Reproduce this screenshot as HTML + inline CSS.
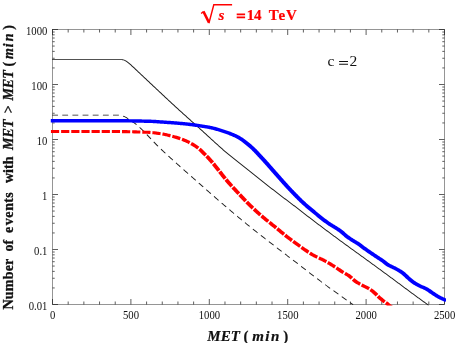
<!DOCTYPE html>
<html><head><meta charset="utf-8"><title>plot</title>
<style>html,body{margin:0;padding:0;background:#fff;}svg{display:block;}svg{will-change:transform;filter:blur(0.3px);}text{font-family:"Liberation Serif",serif;}</style>
</head><body>
<svg width="458" height="343" viewBox="0 0 458 343">
<defs><clipPath id="c"><rect x="50" y="29.5" width="396.0" height="276.0"/></clipPath></defs>
<rect width="458" height="343" fill="#fff"/>
<rect x="52.5" y="29.5" width="392.0" height="275.0" fill="none" stroke="#1a1a1a" stroke-width="0.46"/>
<path d="M52.50 304.5v-5.5M52.50 29.5v5.5M68.18 304.5v-3.0M68.18 29.5v3.0M83.86 304.5v-3.0M83.86 29.5v3.0M99.54 304.5v-3.0M99.54 29.5v3.0M115.22 304.5v-3.0M115.22 29.5v3.0M130.90 304.5v-5.5M130.90 29.5v5.5M146.58 304.5v-3.0M146.58 29.5v3.0M162.26 304.5v-3.0M162.26 29.5v3.0M177.94 304.5v-3.0M177.94 29.5v3.0M193.62 304.5v-3.0M193.62 29.5v3.0M209.30 304.5v-5.5M209.30 29.5v5.5M224.98 304.5v-3.0M224.98 29.5v3.0M240.66 304.5v-3.0M240.66 29.5v3.0M256.34 304.5v-3.0M256.34 29.5v3.0M272.02 304.5v-3.0M272.02 29.5v3.0M287.70 304.5v-5.5M287.70 29.5v5.5M303.38 304.5v-3.0M303.38 29.5v3.0M319.06 304.5v-3.0M319.06 29.5v3.0M334.74 304.5v-3.0M334.74 29.5v3.0M350.42 304.5v-3.0M350.42 29.5v3.0M366.10 304.5v-5.5M366.10 29.5v5.5M381.78 304.5v-3.0M381.78 29.5v3.0M397.46 304.5v-3.0M397.46 29.5v3.0M413.14 304.5v-3.0M413.14 29.5v3.0M428.82 304.5v-3.0M428.82 29.5v3.0M444.50 304.5v-5.5M444.50 29.5v5.5M52.5 304.50h5.5M444.5 304.50h-5.5M52.5 287.94h2.2M444.5 287.94h-2.2M52.5 278.26h2.2M444.5 278.26h-2.2M52.5 271.39h2.2M444.5 271.39h-2.2M52.5 266.06h2.2M444.5 266.06h-2.2M52.5 261.70h2.2M444.5 261.70h-2.2M52.5 258.02h2.2M444.5 258.02h-2.2M52.5 254.83h2.2M444.5 254.83h-2.2M52.5 252.02h2.2M444.5 252.02h-2.2M52.5 249.50h5.5M444.5 249.50h-5.5M52.5 232.94h2.2M444.5 232.94h-2.2M52.5 223.26h2.2M444.5 223.26h-2.2M52.5 216.39h2.2M444.5 216.39h-2.2M52.5 211.06h2.2M444.5 211.06h-2.2M52.5 206.70h2.2M444.5 206.70h-2.2M52.5 203.02h2.2M444.5 203.02h-2.2M52.5 199.83h2.2M444.5 199.83h-2.2M52.5 197.02h2.2M444.5 197.02h-2.2M52.5 194.50h5.5M444.5 194.50h-5.5M52.5 177.94h2.2M444.5 177.94h-2.2M52.5 168.26h2.2M444.5 168.26h-2.2M52.5 161.39h2.2M444.5 161.39h-2.2M52.5 156.06h2.2M444.5 156.06h-2.2M52.5 151.70h2.2M444.5 151.70h-2.2M52.5 148.02h2.2M444.5 148.02h-2.2M52.5 144.83h2.2M444.5 144.83h-2.2M52.5 142.02h2.2M444.5 142.02h-2.2M52.5 139.50h5.5M444.5 139.50h-5.5M52.5 122.94h2.2M444.5 122.94h-2.2M52.5 113.26h2.2M444.5 113.26h-2.2M52.5 106.39h2.2M444.5 106.39h-2.2M52.5 101.06h2.2M444.5 101.06h-2.2M52.5 96.70h2.2M444.5 96.70h-2.2M52.5 93.02h2.2M444.5 93.02h-2.2M52.5 89.83h2.2M444.5 89.83h-2.2M52.5 87.02h2.2M444.5 87.02h-2.2M52.5 84.50h5.5M444.5 84.50h-5.5M52.5 67.94h2.2M444.5 67.94h-2.2M52.5 58.26h2.2M444.5 58.26h-2.2M52.5 51.39h2.2M444.5 51.39h-2.2M52.5 46.06h2.2M444.5 46.06h-2.2M52.5 41.70h2.2M444.5 41.70h-2.2M52.5 38.02h2.2M444.5 38.02h-2.2M52.5 34.83h2.2M444.5 34.83h-2.2M52.5 32.02h2.2M444.5 32.02h-2.2M52.5 29.50h5.5M444.5 29.50h-5.5" fill="none" stroke="#1a1a1a" stroke-width="0.7"/>
<g clip-path="url(#c)">
<path d="M52.10 60.10L52.90 60.10L53.70 60.10L54.50 60.10L55.30 60.10L56.10 60.10L56.90 60.10L57.70 60.10L58.50 60.10L59.30 60.10L60.10 60.10L60.90 60.10L61.71 60.10L62.51 60.10L63.31 60.10L64.11 60.10L64.91 60.10L65.71 60.10L66.51 60.10L67.31 60.10L68.11 60.10L68.91 60.10L69.71 60.10L70.51 60.10L71.31 60.10L72.11 60.10L72.91 60.10L73.71 60.10L74.51 60.10L75.31 60.10L76.11 60.10L76.91 60.10L77.71 60.10L78.51 60.10L79.32 60.10L80.12 60.10L80.92 60.10L81.72 60.10L82.52 60.10L83.32 60.10L84.12 60.10L84.92 60.10L85.72 60.10L86.52 60.10L87.32 60.10L88.12 60.10L88.92 60.10L89.72 60.10L90.52 60.10L91.32 60.10L92.12 60.10L92.92 60.10L93.72 60.10L94.52 60.10L95.32 60.10L96.12 60.10L96.92 60.10L97.73 60.10L98.53 60.10L99.33 60.10L100.13 60.10L100.93 60.10L101.73 60.10L102.53 60.10L103.33 60.10L104.13 60.10L104.93 60.10L105.73 60.10L106.53 60.10L107.33 60.10L108.13 60.10L108.93 60.10L109.73 60.10L110.53 60.10L111.33 60.10L112.13 60.10L112.93 60.10L113.73 60.10L114.53 60.10L115.34 60.10L116.14 60.10L116.94 60.10L117.74 60.10L118.54 60.10L119.34 60.10L120.14 60.10L120.93 60.10L121.72 60.11L122.50 60.16L123.25 60.28L123.95 60.49L124.63 60.81L125.29 61.20L125.94 61.62L126.58 62.08L127.21 62.56L127.84 63.04L128.45 63.54L129.06 64.05L129.67 64.56L130.27 65.08L130.87 65.61L131.46 66.14L132.05 66.68L132.64 67.21L133.22 67.76L133.81 68.30L134.39 68.85L134.97 69.40L135.55 69.95L136.12 70.51L136.70 71.06L137.28 71.61L137.86 72.17L138.44 72.72L139.02 73.27L139.61 73.82L140.19 74.37L140.78 74.91L141.36 75.46L141.94 76.01L142.53 76.56L143.11 77.10L143.69 77.65L144.28 78.20L144.86 78.75L145.44 79.30L146.02 79.85L146.61 80.40L147.19 80.95L147.77 81.49L148.36 82.04L148.94 82.59L149.52 83.14L150.11 83.69L150.69 84.23L151.28 84.78L151.86 85.33L152.44 85.88L153.03 86.42L153.61 86.97L154.19 87.52L154.78 88.07L155.36 88.62L155.94 89.16L156.53 89.71L157.11 90.26L157.69 90.81L158.28 91.36L158.86 91.90L159.45 92.45L160.03 93.00L160.61 93.55L161.20 94.09L161.78 94.64L162.37 95.19L162.95 95.74L163.53 96.28L164.12 96.83L164.70 97.38L165.29 97.92L165.87 98.47L166.46 99.02L167.04 99.56L167.63 100.11L168.22 100.65L168.80 101.20L169.39 101.74L169.98 102.29L170.56 102.83L171.15 103.38L171.74 103.92L172.32 104.47L172.91 105.01L173.50 105.55L174.09 106.09L174.68 106.64L175.27 107.18L175.86 107.72L176.45 108.26L177.04 108.80L177.63 109.34L178.22 109.88L178.82 110.42L179.41 110.96L180.00 111.50L180.60 112.03L181.19 112.57L181.78 113.11L182.38 113.64L182.97 114.18L183.57 114.72L184.16 115.25L184.76 115.79L185.36 116.32L185.95 116.86L186.55 117.39L187.14 117.92L187.74 118.46L188.34 118.99L188.93 119.53L189.53 120.06L190.13 120.59L190.72 121.13L191.32 121.66L191.92 122.20L192.51 122.73L193.11 123.26L193.70 123.80L194.30 124.33L194.90 124.87L195.49 125.40L196.09 125.94L196.68 126.47L197.28 127.01L197.87 127.54L198.46 128.08L199.06 128.62L199.65 129.15L200.24 129.69L200.83 130.23L201.43 130.77L202.02 131.31L202.61 131.84L203.20 132.38L203.79 132.92L204.38 133.46L204.97 134.00L205.56 134.55L206.15 135.09L206.74 135.63L207.33 136.17L207.92 136.71L208.51 137.25L209.10 137.79L209.69 138.33L210.28 138.87L210.87 139.41L211.46 139.95L212.06 140.49L212.65 141.03L213.24 141.57L213.83 142.11L214.42 142.65L215.02 143.19L215.61 143.73L216.20 144.26L216.80 144.80L217.39 145.33L217.99 145.87L218.59 146.40L219.18 146.94L219.78 147.47L220.37 148.01L220.97 148.54L221.57 149.07L222.17 149.61L222.77 150.14L223.38 150.66L223.98 151.19L224.59 151.71L225.21 152.23L225.82 152.75L226.44 153.26L227.05 153.77L227.67 154.28L228.29 154.79L228.91 155.30L229.53 155.81L230.15 156.32L230.77 156.82L231.40 157.32L232.02 157.83L232.65 158.33L233.27 158.83L233.90 159.33L234.53 159.82L235.15 160.32L235.78 160.82L236.41 161.31L237.04 161.81L237.67 162.30L238.30 162.80L238.93 163.29L239.56 163.79L240.19 164.28L240.82 164.77L241.45 165.27L242.08 165.76L242.71 166.25L243.34 166.74L243.98 167.24L244.61 167.73L245.24 168.22L245.87 168.72L246.50 169.21L247.12 169.70L247.75 170.20L248.38 170.70L249.01 171.19L249.64 171.69L250.26 172.19L250.89 172.68L251.51 173.18L252.14 173.68L252.77 174.18L253.39 174.68L254.02 175.18L254.64 175.68L255.27 176.18L255.89 176.68L256.52 177.17L257.15 177.67L257.77 178.17L258.40 178.67L259.02 179.17L259.65 179.67L260.27 180.17L260.90 180.67L261.52 181.17L262.15 181.67L262.77 182.17L263.40 182.67L264.03 183.17L264.65 183.67L265.28 184.17L265.91 184.66L266.53 185.16L267.16 185.66L267.79 186.16L268.41 186.65L269.04 187.15L269.67 187.65L270.30 188.14L270.93 188.64L271.56 189.13L272.19 189.63L272.82 190.12L273.45 190.62L274.08 191.11L274.71 191.60L275.34 192.10L275.97 192.59L276.61 193.08L277.24 193.57L277.87 194.06L278.51 194.55L279.14 195.04L279.78 195.53L280.41 196.01L281.05 196.50L281.69 196.98L282.33 197.46L282.97 197.94L283.62 198.42L284.26 198.90L284.90 199.38L285.54 199.86L286.18 200.34L286.83 200.81L287.47 201.29L288.11 201.77L288.75 202.25L289.38 202.73L290.02 203.22L290.66 203.70L291.29 204.18L291.93 204.67L292.57 205.16L293.20 205.64L293.84 206.13L294.47 206.62L295.11 207.10L295.74 207.59L296.37 208.08L297.01 208.57L297.64 209.06L298.27 209.55L298.91 210.04L299.54 210.53L300.17 211.02L300.81 211.51L301.44 212.00L302.07 212.49L302.70 212.98L303.34 213.47L303.97 213.96L304.60 214.45L305.24 214.94L305.87 215.43L306.50 215.92L307.14 216.41L307.77 216.90L308.40 217.38L309.04 217.87L309.67 218.36L310.31 218.85L310.94 219.34L311.58 219.82L312.22 220.31L312.85 220.79L313.49 221.28L314.13 221.76L314.77 222.25L315.41 222.73L316.04 223.21L316.68 223.70L317.32 224.18L317.96 224.66L318.60 225.14L319.24 225.62L319.88 226.11L320.52 226.59L321.16 227.07L321.80 227.55L322.44 228.03L323.08 228.51L323.72 228.99L324.36 229.47L325.00 229.95L325.64 230.43L326.29 230.91L326.93 231.39L327.57 231.87L328.21 232.34L328.85 232.82L329.50 233.30L330.14 233.78L330.78 234.26L331.42 234.73L332.07 235.21L332.71 235.69L333.35 236.16L334.00 236.64L334.64 237.12L335.28 237.59L335.93 238.07L336.57 238.54L337.22 239.02L337.86 239.49L338.50 239.97L339.15 240.44L339.79 240.92L340.44 241.39L341.09 241.87L341.73 242.34L342.38 242.81L343.02 243.28L343.67 243.76L344.32 244.23L344.97 244.70L345.61 245.17L346.26 245.64L346.91 246.11L347.56 246.58L348.20 247.05L348.85 247.52L349.50 247.99L350.15 248.46L350.80 248.93L351.45 249.40L352.10 249.86L352.75 250.33L353.40 250.80L354.04 251.27L354.69 251.74L355.34 252.21L355.99 252.68L356.64 253.14L357.29 253.61L357.94 254.08L358.59 254.55L359.24 255.02L359.89 255.49L360.53 255.96L361.18 256.42L361.83 256.89L362.48 257.36L363.13 257.83L363.77 258.30L364.42 258.77L365.07 259.24L365.72 259.72L366.36 260.19L367.01 260.66L367.66 261.13L368.30 261.60L368.95 262.07L369.60 262.54L370.25 263.01L370.89 263.48L371.54 263.95L372.19 264.43L372.83 264.90L373.48 265.37L374.13 265.84L374.78 266.31L375.42 266.78L376.07 267.25L376.72 267.73L377.36 268.20L378.01 268.67L378.65 269.14L379.30 269.61L379.95 270.09L380.59 270.56L381.24 271.03L381.89 271.50L382.53 271.98L383.18 272.45L383.82 272.92L384.47 273.39L385.11 273.87L385.76 274.34L386.40 274.82L387.05 275.29L387.69 275.76L388.34 276.24L388.98 276.71L389.62 277.19L390.27 277.66L390.91 278.14L391.55 278.62L392.20 279.09L392.84 279.57L393.48 280.05L394.13 280.52L394.77 281.00L395.41 281.48L396.05 281.96L396.69 282.43L397.34 282.91L397.98 283.39L398.62 283.87L399.26 284.35L399.90 284.83L400.54 285.30L401.19 285.78L401.83 286.26L402.47 286.74L403.11 287.22L403.75 287.70L404.40 288.17L405.04 288.65L405.68 289.13L406.32 289.61L406.96 290.09L407.61 290.56L408.25 291.04L408.89 291.52L409.54 291.99L410.18 292.47L410.83 292.94L411.47 293.42L412.11 293.90L412.76 294.37L413.40 294.84L414.05 295.32L414.70 295.79L415.34 296.26L415.99 296.74L416.64 297.21L417.28 297.68L417.93 298.15L418.58 298.62L419.23 299.09L419.88 299.56L420.52 300.03L421.17 300.50L421.82 300.97L422.47 301.44L423.12 301.91L423.77 302.38L424.42 302.85L425.06 303.31L425.71 303.78L426.36 304.25L427.01 304.72L427.66 305.19L428.31 305.66L428.86 304.89L428.21 304.42L427.56 303.96L426.92 303.49L426.27 303.02L425.62 302.55L424.97 302.08L424.32 301.61L423.67 301.14L423.02 300.67L422.38 300.20L421.73 299.73L421.08 299.26L420.43 298.79L419.78 298.32L419.14 297.85L418.49 297.38L417.84 296.91L417.19 296.44L416.55 295.97L415.90 295.50L415.26 295.03L414.61 294.55L413.97 294.08L413.32 293.61L412.68 293.13L412.03 292.66L411.39 292.18L410.75 291.70L410.10 291.23L409.46 290.75L408.82 290.28L408.17 289.80L407.53 289.32L406.89 288.84L406.25 288.37L405.61 287.89L404.96 287.41L404.32 286.93L403.68 286.45L403.04 285.98L402.40 285.50L401.75 285.02L401.11 284.54L400.47 284.06L399.83 283.58L399.19 283.11L398.55 282.63L397.90 282.15L397.26 281.67L396.62 281.19L395.98 280.72L395.34 280.24L394.69 279.76L394.05 279.28L393.41 278.81L392.76 278.33L392.12 277.85L391.48 277.38L390.83 276.90L390.19 276.42L389.55 275.95L388.90 275.47L388.26 275.00L387.61 274.52L386.97 274.05L386.32 273.58L385.67 273.10L385.03 272.63L384.38 272.16L383.74 271.68L383.09 271.21L382.45 270.74L381.80 270.26L381.15 269.79L380.51 269.32L379.86 268.85L379.21 268.38L378.57 267.90L377.92 267.43L377.27 266.96L376.63 266.49L375.98 266.02L375.33 265.54L374.69 265.07L374.04 264.60L373.39 264.13L372.75 263.66L372.10 263.19L371.45 262.72L370.80 262.25L370.16 261.78L369.51 261.30L368.86 260.83L368.21 260.36L367.57 259.89L366.92 259.42L366.27 258.95L365.63 258.48L364.98 258.01L364.33 257.54L363.68 257.07L363.03 256.60L362.39 256.13L361.74 255.66L361.09 255.19L360.44 254.72L359.79 254.25L359.14 253.78L358.49 253.31L357.84 252.84L357.19 252.38L356.55 251.91L355.90 251.44L355.25 250.97L354.60 250.50L353.95 250.03L353.30 249.57L352.65 249.10L352.00 248.63L351.35 248.16L350.71 247.69L350.06 247.22L349.41 246.75L348.76 246.28L348.11 245.81L347.46 245.34L346.82 244.87L346.17 244.40L345.52 243.93L344.88 243.46L344.23 242.99L343.58 242.52L342.94 242.05L342.29 241.57L341.65 241.10L341.00 240.63L340.36 240.15L339.71 239.68L339.07 239.20L338.42 238.73L337.78 238.25L337.14 237.78L336.49 237.30L335.85 236.83L335.21 236.35L334.56 235.88L333.92 235.40L333.28 234.92L332.63 234.45L331.99 233.97L331.35 233.49L330.71 233.01L330.06 232.54L329.42 232.06L328.78 231.58L328.14 231.10L327.50 230.62L326.86 230.14L326.21 229.67L325.57 229.19L324.93 228.71L324.29 228.23L323.65 227.75L323.01 227.27L322.37 226.79L321.73 226.31L321.09 225.82L320.45 225.34L319.81 224.86L319.17 224.38L318.54 223.90L317.90 223.42L317.26 222.93L316.62 222.45L315.98 221.97L315.34 221.49L314.71 221.00L314.07 220.52L313.43 220.03L312.80 219.55L312.16 219.06L311.53 218.58L310.89 218.09L310.26 217.60L309.62 217.11L308.99 216.62L308.36 216.14L307.72 215.65L307.09 215.16L306.46 214.67L305.82 214.18L305.19 213.69L304.56 213.20L303.92 212.71L303.29 212.22L302.66 211.73L302.03 211.24L301.39 210.75L300.76 210.26L300.13 209.77L299.49 209.28L298.86 208.79L298.23 208.30L297.59 207.81L296.96 207.32L296.32 206.83L295.69 206.34L295.05 205.86L294.42 205.37L293.78 204.88L293.15 204.40L292.51 203.91L291.87 203.42L291.24 202.94L290.60 202.45L289.96 201.97L289.32 201.49L288.68 201.01L288.04 200.53L287.39 200.05L286.75 199.57L286.11 199.09L285.47 198.62L284.83 198.14L284.19 197.66L283.54 197.18L282.91 196.70L282.27 196.22L281.63 195.74L280.99 195.25L280.36 194.77L279.73 194.28L279.09 193.79L278.46 193.30L277.83 192.81L277.19 192.32L276.56 191.83L275.93 191.34L275.30 190.85L274.67 190.35L274.04 189.86L273.41 189.37L272.78 188.87L272.15 188.38L271.52 187.88L270.90 187.39L270.27 186.89L269.64 186.40L269.01 185.90L268.39 185.40L267.76 184.90L267.13 184.41L266.51 183.91L265.88 183.41L265.25 182.91L264.63 182.41L264.00 181.91L263.38 181.42L262.75 180.92L262.13 180.42L261.50 179.92L260.87 179.42L260.25 178.92L259.62 178.42L259.00 177.92L258.37 177.42L257.75 176.92L257.12 176.42L256.50 175.92L255.87 175.42L255.25 174.92L254.62 174.42L253.99 173.92L253.37 173.42L252.74 172.93L252.12 172.43L251.49 171.93L250.86 171.43L250.23 170.93L249.61 170.44L248.98 169.94L248.35 169.44L247.72 168.95L247.09 168.45L246.46 167.96L245.83 167.47L245.20 166.97L244.57 166.48L243.94 165.99L243.31 165.49L242.68 165.00L242.04 164.51L241.41 164.02L240.78 163.52L240.15 163.03L239.52 162.54L238.89 162.04L238.26 161.55L237.64 161.05L237.01 160.56L236.38 160.06L235.75 159.57L235.13 159.07L234.50 158.57L233.87 158.07L233.25 157.57L232.63 157.07L232.00 156.57L231.38 156.07L230.76 155.56L230.14 155.06L229.52 154.55L228.91 154.04L228.29 153.53L227.67 153.02L227.06 152.51L226.45 152.00L225.84 151.48L225.23 150.97L224.62 150.45L224.02 149.92L223.42 149.40L222.82 148.87L222.23 148.34L221.63 147.80L221.03 147.27L220.44 146.74L219.84 146.20L219.25 145.67L218.65 145.13L218.06 144.60L217.46 144.06L216.87 143.53L216.28 142.99L215.68 142.45L215.09 141.91L214.50 141.38L213.91 140.84L213.32 140.30L212.73 139.76L212.13 139.22L211.54 138.68L210.95 138.14L210.36 137.60L209.77 137.06L209.18 136.52L208.59 135.98L208.00 135.43L207.41 134.89L206.82 134.35L206.23 133.81L205.64 133.27L205.05 132.73L204.46 132.19L203.87 131.65L203.28 131.11L202.69 130.57L202.09 130.03L201.50 129.49L200.91 128.96L200.32 128.42L199.72 127.88L199.13 127.34L198.53 126.81L197.94 126.27L197.34 125.73L196.75 125.20L196.15 124.66L195.56 124.13L194.96 123.59L194.36 123.06L193.77 122.53L193.17 121.99L192.58 121.46L191.98 120.92L191.38 120.39L190.79 119.86L190.19 119.32L189.59 118.79L189.00 118.26L188.40 117.72L187.80 117.19L187.21 116.65L186.61 116.12L186.02 115.58L185.42 115.05L184.83 114.51L184.23 113.98L183.64 113.44L183.04 112.91L182.45 112.37L181.85 111.84L181.26 111.30L180.67 110.76L180.08 110.22L179.48 109.69L178.89 109.15L178.30 108.61L177.71 108.07L177.12 107.53L176.53 106.99L175.94 106.45L175.35 105.90L174.77 105.36L174.18 104.82L173.59 104.28L173.00 103.73L172.41 103.19L171.83 102.65L171.24 102.10L170.65 101.56L170.07 101.01L169.48 100.47L168.90 99.92L168.31 99.38L167.72 98.83L167.14 98.29L166.55 97.74L165.97 97.19L165.39 96.65L164.80 96.10L164.22 95.55L163.63 95.01L163.05 94.46L162.46 93.91L161.88 93.37L161.30 92.82L160.71 92.27L160.13 91.72L159.55 91.17L158.96 90.63L158.38 90.08L157.80 89.53L157.21 88.98L156.63 88.43L156.04 87.89L155.46 87.34L154.88 86.79L154.29 86.24L153.71 85.70L153.13 85.15L152.54 84.60L151.96 84.05L151.38 83.50L150.79 82.96L150.21 82.41L149.62 81.86L149.04 81.31L148.46 80.77L147.87 80.22L147.29 79.67L146.71 79.12L146.13 78.57L145.54 78.02L144.96 77.47L144.38 76.93L143.80 76.38L143.21 75.83L142.63 75.28L142.05 74.73L141.46 74.18L140.88 73.64L140.29 73.09L139.71 72.54L139.13 71.99L138.55 71.44L137.97 70.89L137.40 70.34L136.82 69.78L136.24 69.23L135.66 68.68L135.08 68.12L134.49 67.57L133.90 67.03L133.32 66.48L132.72 65.94L132.12 65.40L131.52 64.87L130.91 64.34L130.30 63.82L129.69 63.30L129.06 62.79L128.43 62.28L127.79 61.79L127.13 61.31L126.46 60.85L125.76 60.42L125.03 60.02L124.24 59.69L123.41 59.48L122.58 59.36L121.76 59.31L120.94 59.30L120.14 59.30L119.34 59.30L118.54 59.30L117.74 59.30L116.94 59.30L116.14 59.30L115.34 59.30L114.53 59.30L113.73 59.30L112.93 59.30L112.13 59.30L111.33 59.30L110.53 59.30L109.73 59.30L108.93 59.30L108.13 59.30L107.33 59.30L106.53 59.30L105.73 59.30L104.93 59.30L104.13 59.30L103.33 59.30L102.53 59.30L101.73 59.30L100.93 59.30L100.13 59.30L99.33 59.30L98.53 59.30L97.73 59.30L96.92 59.30L96.12 59.30L95.32 59.30L94.52 59.30L93.72 59.30L92.92 59.30L92.12 59.30L91.32 59.30L90.52 59.30L89.72 59.30L88.92 59.30L88.12 59.30L87.32 59.30L86.52 59.30L85.72 59.30L84.92 59.30L84.12 59.30L83.32 59.30L82.52 59.30L81.72 59.30L80.92 59.30L80.12 59.30L79.32 59.30L78.51 59.30L77.71 59.30L76.91 59.30L76.11 59.30L75.31 59.30L74.51 59.30L73.71 59.30L72.91 59.30L72.11 59.30L71.31 59.30L70.51 59.30L69.71 59.30L68.91 59.30L68.11 59.30L67.31 59.30L66.51 59.30L65.71 59.30L64.91 59.30L64.11 59.30L63.31 59.30L62.51 59.30L61.71 59.30L60.90 59.30L60.10 59.30L59.30 59.30L58.50 59.30L57.70 59.30L56.90 59.30L56.10 59.30L55.30 59.30L54.50 59.30L53.70 59.30L52.90 59.30L52.10 59.30Z" fill="#1a1a1a"/>
<path d="M52.12 115.42L52.96 115.42L53.80 115.42L54.63 115.42L55.47 115.42L56.30 115.42L57.14 115.42L57.98 115.42L57.98 114.67L57.14 114.67L56.30 114.67L55.47 114.67L54.63 114.67L53.80 114.67L52.96 114.67L52.12 114.67ZM62.27 115.42L63.11 115.42L63.95 115.42L64.78 115.42L65.62 115.42L66.45 115.42L67.29 115.42L68.12 115.42L68.12 114.67L67.29 114.67L66.45 114.67L65.62 114.67L64.78 114.67L63.95 114.67L63.11 114.67L62.27 114.67ZM72.42 115.42L73.26 115.42L74.10 115.42L74.93 115.42L75.77 115.42L76.60 115.42L77.44 115.42L78.28 115.42L78.28 114.67L77.44 114.67L76.60 114.67L75.77 114.67L74.93 114.67L74.10 114.67L73.26 114.67L72.42 114.67ZM82.58 115.42L83.41 115.42L84.25 115.42L85.08 115.42L85.92 115.42L86.75 115.42L87.59 115.42L88.43 115.42L88.43 114.67L87.59 114.67L86.75 114.67L85.92 114.67L85.08 114.67L84.25 114.67L83.41 114.67L82.58 114.67ZM92.72 115.42L93.56 115.42L94.40 115.42L95.23 115.42L96.07 115.42L96.90 115.42L97.74 115.42L98.58 115.42L98.58 114.67L97.74 114.67L96.90 114.67L96.07 114.67L95.23 114.67L94.40 114.67L93.56 114.67L92.72 114.67ZM102.88 115.42L103.71 115.42L104.55 115.42L105.38 115.42L106.22 115.42L107.05 115.42L107.89 115.42L108.72 115.42L108.72 114.67L107.89 114.67L107.05 114.67L106.22 114.67L105.38 114.67L104.55 114.67L103.71 114.67L102.88 114.67ZM113.03 115.42L113.86 115.42L114.70 115.42L115.53 115.42L116.37 115.43L117.20 115.43L118.02 115.45L118.85 115.49L118.90 114.74L118.05 114.70L117.21 114.68L116.37 114.67L115.53 114.67L114.70 114.67L113.86 114.67L113.03 114.67ZM122.89 116.39L123.65 116.70L124.39 117.05L125.13 117.44L125.86 117.84L126.59 118.26L127.32 118.68L128.04 119.11L128.48 118.37L127.75 117.94L127.01 117.52L126.27 117.10L125.52 116.69L124.76 116.31L123.97 115.95L123.17 115.64ZM131.52 121.40L132.21 121.89L132.90 122.40L133.58 122.91L134.26 123.42L134.93 123.95L135.59 124.48L136.24 125.02L136.83 124.31L136.17 123.76L135.49 123.23L134.81 122.70L134.12 122.18L133.43 121.67L132.73 121.17L132.03 120.67ZM139.32 127.74L139.95 128.33L140.57 128.92L141.19 129.52L141.80 130.12L142.41 130.73L143.02 131.34L143.63 131.95L144.32 131.27L143.71 130.66L143.09 130.05L142.48 129.44L141.85 128.83L141.23 128.23L140.60 127.64L139.96 127.05ZM146.46 134.89L147.06 135.52L147.66 136.14L148.25 136.78L148.84 137.41L149.44 138.04L150.03 138.67L150.63 139.30L151.34 138.64L150.74 138.00L150.15 137.37L149.56 136.74L148.96 136.11L148.36 135.47L147.77 134.84L147.17 134.22ZM153.43 142.27L154.03 142.90L154.63 143.52L155.23 144.15L155.84 144.77L156.45 145.39L157.06 146.01L157.68 146.62L158.36 145.94L157.75 145.33L157.14 144.71L156.53 144.10L155.93 143.47L155.33 142.85L154.73 142.23L154.13 141.60ZM160.63 149.47L161.26 150.06L161.89 150.65L162.53 151.24L163.16 151.83L163.79 152.42L164.43 153.01L165.06 153.60L165.70 152.91L165.07 152.32L164.44 151.73L163.81 151.14L163.17 150.55L162.54 149.96L161.91 149.37L161.29 148.78ZM168.08 156.38L168.72 156.96L169.36 157.54L170.00 158.13L170.64 158.71L171.28 159.29L171.92 159.87L172.56 160.45L173.19 159.75L172.55 159.17L171.91 158.59L171.27 158.01L170.63 157.43L169.99 156.85L169.36 156.27L168.72 155.68ZM175.61 163.19L176.26 163.77L176.90 164.34L177.55 164.92L178.19 165.49L178.83 166.07L179.48 166.64L180.13 167.21L180.75 166.51L180.10 165.94L179.46 165.37L178.81 164.79L178.17 164.22L177.53 163.64L176.88 163.07L176.24 162.49ZM183.21 169.94L183.85 170.51L184.50 171.08L185.15 171.65L185.79 172.22L186.44 172.79L187.09 173.36L187.74 173.93L188.35 173.23L187.71 172.66L187.06 172.09L186.41 171.52L185.76 170.95L185.12 170.38L184.47 169.81L183.83 169.24ZM190.82 176.65L191.47 177.22L192.12 177.78L192.77 178.35L193.42 178.92L194.06 179.49L194.71 180.06L195.36 180.63L195.98 179.93L195.33 179.36L194.68 178.79L194.03 178.22L193.39 177.65L192.74 177.08L192.09 176.51L191.44 175.94ZM198.44 183.35L199.09 183.92L199.74 184.49L200.38 185.06L201.03 185.63L201.68 186.20L202.32 186.78L202.97 187.35L203.59 186.64L202.94 186.07L202.30 185.50L201.65 184.93L201.00 184.36L200.36 183.79L199.71 183.22L199.06 182.65ZM206.05 190.07L206.70 190.64L207.35 191.21L208.00 191.78L208.64 192.35L209.29 192.91L209.94 193.48L210.59 194.05L211.21 193.35L210.56 192.78L209.91 192.21L209.26 191.64L208.61 191.07L207.97 190.50L207.32 189.93L206.67 189.36ZM213.69 196.76L214.34 197.33L214.99 197.90L215.64 198.46L216.29 199.03L216.94 199.59L217.59 200.16L218.24 200.72L218.85 200.02L218.20 199.45L217.55 198.89L216.90 198.32L216.25 197.76L215.60 197.19L214.95 196.62L214.30 196.06ZM221.36 203.41L222.02 203.97L222.67 204.53L223.33 205.10L223.98 205.66L224.64 206.21L225.29 206.77L225.95 207.33L226.55 206.63L225.89 206.07L225.24 205.51L224.58 204.95L223.93 204.39L223.28 203.83L222.62 203.27L221.97 202.71ZM229.09 210.00L229.75 210.56L230.40 211.11L231.06 211.67L231.72 212.23L232.38 212.78L233.04 213.34L233.70 213.89L234.29 213.18L233.63 212.63L232.98 212.07L232.32 211.52L231.66 210.96L231.00 210.41L230.35 209.85L229.69 209.29ZM236.86 216.54L237.52 217.09L238.18 217.65L238.84 218.20L239.50 218.75L240.16 219.30L240.83 219.85L241.49 220.40L242.08 219.69L241.42 219.14L240.75 218.59L240.09 218.04L239.43 217.49L238.77 216.94L238.11 216.38L237.45 215.83ZM244.68 223.02L245.34 223.57L246.01 224.11L246.68 224.65L247.34 225.20L248.01 225.74L248.68 226.28L249.35 226.82L249.93 226.11L249.26 225.57L248.59 225.03L247.92 224.48L247.26 223.94L246.59 223.40L245.93 222.85L245.26 222.31ZM252.58 229.41L253.25 229.95L253.92 230.48L254.59 231.02L255.27 231.55L255.94 232.08L256.62 232.61L257.30 233.15L257.86 232.43L257.18 231.90L256.51 231.37L255.84 230.83L255.16 230.30L254.49 229.77L253.82 229.23L253.15 228.70ZM260.56 235.70L261.23 236.22L261.91 236.75L262.59 237.28L263.27 237.80L263.95 238.33L264.63 238.86L265.31 239.38L265.86 238.66L265.18 238.14L264.50 237.61L263.83 237.08L263.15 236.56L262.47 236.03L261.79 235.50L261.12 234.98ZM268.58 241.91L269.26 242.44L269.94 242.96L270.62 243.49L271.30 244.01L271.98 244.53L272.66 245.06L273.34 245.58L273.90 244.86L273.22 244.34L272.54 243.81L271.86 243.29L271.18 242.77L270.50 242.24L269.82 241.72L269.14 241.19ZM276.62 248.11L277.30 248.64L277.98 249.16L278.66 249.69L279.34 250.21L280.02 250.73L280.70 251.26L281.38 251.78L281.93 251.06L281.25 250.54L280.57 250.01L279.89 249.49L279.21 248.97L278.53 248.44L277.85 247.92L277.17 247.39ZM284.67 254.30L285.35 254.82L286.03 255.34L286.72 255.86L287.40 256.38L288.08 256.90L288.76 257.42L289.44 257.95L289.99 257.22L289.31 256.70L288.63 256.18L287.95 255.66L287.27 255.14L286.58 254.62L285.90 254.10L285.22 253.58ZM292.74 260.45L293.43 260.97L294.11 261.49L294.79 262.01L295.48 262.53L296.16 263.05L296.84 263.57L297.52 264.09L298.07 263.37L297.39 262.85L296.71 262.33L296.02 261.81L295.34 261.29L294.66 260.77L293.97 260.25L293.29 259.73ZM300.80 266.61L301.48 267.14L302.16 267.66L302.84 268.19L303.51 268.72L304.19 269.25L304.87 269.78L305.54 270.31L306.10 269.59L305.43 269.06L304.75 268.53L304.07 268.00L303.40 267.47L302.72 266.95L302.04 266.42L301.36 265.89ZM308.81 272.85L309.49 273.38L310.17 273.90L310.85 274.43L311.53 274.95L312.21 275.47L312.89 275.99L313.58 276.52L314.13 275.79L313.44 275.27L312.76 274.75L312.08 274.23L311.40 273.71L310.72 273.18L310.04 272.66L309.37 272.13ZM316.88 279.02L317.56 279.54L318.25 280.05L318.93 280.57L319.62 281.09L320.31 281.60L320.99 282.11L321.68 282.63L322.22 281.90L321.54 281.39L320.85 280.88L320.16 280.36L319.48 279.85L318.79 279.33L318.11 278.82L317.42 278.30ZM325.02 285.10L325.71 285.61L326.40 286.11L327.09 286.62L327.79 287.13L328.48 287.63L329.17 288.13L329.87 288.64L330.39 287.91L329.70 287.41L329.01 286.90L328.31 286.40L327.62 285.89L326.93 285.39L326.24 284.88L325.55 284.37ZM333.23 291.07L333.93 291.57L334.63 292.07L335.32 292.57L336.02 293.07L336.71 293.57L337.41 294.06L338.11 294.56L338.63 293.84L337.93 293.34L337.24 292.84L336.54 292.34L335.84 291.84L335.15 291.34L334.45 290.84L333.76 290.34ZM341.49 296.98L342.19 297.47L342.89 297.97L343.58 298.47L344.28 298.96L344.98 299.46L345.68 299.96L346.37 300.45L346.89 299.73L346.20 299.23L345.50 298.73L344.80 298.24L344.10 297.74L343.41 297.24L342.71 296.74L342.01 296.25ZM349.76 302.87L350.54 303.43L351.33 304.00L352.12 304.56L352.90 305.12L353.42 304.40L352.64 303.83L351.85 303.27L351.06 302.70L350.28 302.14Z" fill="#1a1a1a"/>
<path d="M50.77 122.42L51.58 122.42L52.38 122.42L53.18 122.42L53.98 122.42L54.78 122.42L55.58 122.42L56.38 122.43L57.18 122.42L57.99 122.42L58.79 122.42L59.59 122.43L60.39 122.42L61.19 122.42L61.99 122.42L62.79 122.42L63.59 122.43L64.40 122.43L65.20 122.42L66.00 122.42L66.80 122.43L67.60 122.42L68.40 122.42L69.20 122.42L70.00 122.42L70.81 122.42L71.61 122.42L72.41 122.42L73.21 122.42L74.01 122.42L74.81 122.42L75.61 122.42L76.41 122.42L77.22 122.42L78.02 122.42L78.82 122.42L79.62 122.43L80.42 122.42L81.22 122.42L82.02 122.42L82.82 122.42L83.62 122.42L84.43 122.42L85.23 122.42L86.03 122.42L86.83 122.42L87.63 122.42L88.43 122.42L89.23 122.42L90.03 122.42L90.84 122.42L91.64 122.42L92.44 122.42L93.24 122.42L94.04 122.42L94.84 122.42L95.64 122.42L96.44 122.42L97.25 122.42L98.05 122.42L98.85 122.42L99.65 122.42L100.45 122.42L101.25 122.43L102.05 122.42L102.85 122.42L103.66 122.42L104.46 122.42L105.26 122.42L106.06 122.42L106.86 122.42L107.66 122.42L108.46 122.42L109.26 122.43L110.06 122.43L110.86 122.43L111.66 122.43L112.46 122.43L113.26 122.43L114.06 122.43L114.86 122.44L115.66 122.44L116.47 122.44L117.27 122.45L118.07 122.45L118.87 122.46L119.67 122.47L120.47 122.47L121.27 122.48L122.07 122.49L122.87 122.50L123.67 122.50L124.47 122.51L125.27 122.52L126.07 122.53L126.87 122.54L127.67 122.56L128.47 122.57L129.27 122.58L130.07 122.59L130.87 122.60L131.67 122.62L132.47 122.63L133.27 122.65L134.07 122.66L134.87 122.67L135.67 122.69L136.47 122.71L137.27 122.72L138.07 122.74L138.87 122.76L139.67 122.77L140.47 122.79L141.27 122.81L142.07 122.83L142.87 122.85L143.67 122.86L144.47 122.88L145.27 122.90L146.07 122.92L146.87 122.94L147.67 122.96L148.47 122.99L149.27 123.01L150.07 123.03L150.86 123.05L151.65 123.09L152.44 123.12L153.23 123.16L154.02 123.21L154.81 123.26L155.61 123.31L156.40 123.36L157.20 123.42L158.00 123.47L158.80 123.53L159.60 123.58L160.40 123.64L161.20 123.69L162.00 123.74L162.80 123.80L163.60 123.85L164.40 123.91L165.19 123.96L165.99 124.02L166.79 124.07L167.59 124.13L168.39 124.19L169.18 124.25L169.98 124.30L170.78 124.36L171.57 124.42L172.37 124.49L173.17 124.55L173.97 124.61L174.76 124.68L175.56 124.74L176.35 124.81L177.15 124.87L177.95 124.94L178.74 125.01L179.54 125.08L180.33 125.15L181.13 125.23L181.92 125.30L182.72 125.37L183.51 125.45L184.31 125.53L185.10 125.61L185.89 125.69L186.68 125.77L187.47 125.86L188.26 125.95L189.05 126.05L189.84 126.14L190.63 126.24L191.42 126.34L192.21 126.45L193.00 126.55L193.79 126.66L194.58 126.77L195.37 126.88L196.16 126.99L196.95 127.11L197.74 127.22L198.53 127.34L199.32 127.45L200.11 127.57L200.90 127.69L201.69 127.81L202.48 127.93L203.27 128.06L204.05 128.18L204.83 128.31L205.62 128.44L206.40 128.58L207.17 128.72L207.95 128.87L208.72 129.02L209.50 129.17L210.27 129.34L211.03 129.51L211.80 129.68L212.56 129.87L213.32 130.06L214.08 130.25L214.85 130.46L215.61 130.67L216.36 130.88L217.12 131.10L217.88 131.33L218.64 131.56L219.39 131.79L220.15 132.03L220.90 132.27L221.66 132.52L222.41 132.77L223.17 133.02L223.92 133.27L224.67 133.53L225.43 133.79L226.17 134.05L226.92 134.32L227.66 134.58L228.40 134.86L229.14 135.14L229.87 135.42L230.60 135.71L231.33 136.01L232.05 136.32L232.76 136.63L233.47 136.95L234.18 137.28L234.88 137.61L235.58 137.96L236.27 138.31L236.95 138.68L237.61 139.05L238.27 139.44L238.92 139.84L239.57 140.26L240.21 140.69L240.84 141.12L241.47 141.58L242.10 142.03L242.73 142.50L243.35 142.98L243.97 143.46L244.58 143.94L245.20 144.44L245.81 144.94L246.42 145.44L247.02 145.94L247.63 146.46L248.24 146.97L248.83 147.48L249.42 148.00L250.01 148.51L250.57 149.04L251.14 149.57L251.70 150.12L252.26 150.67L252.81 151.22L253.36 151.78L253.91 152.35L254.46 152.92L255.00 153.49L255.55 154.07L256.09 154.65L256.63 155.23L257.17 155.82L257.71 156.40L258.25 156.99L258.79 157.58L259.34 158.17L259.88 158.76L260.43 159.35L260.97 159.94L261.52 160.52L262.06 161.11L262.59 161.70L263.13 162.29L263.66 162.88L264.19 163.47L264.72 164.06L265.25 164.66L265.78 165.26L266.31 165.85L266.83 166.45L267.36 167.05L267.89 167.66L268.41 168.26L268.94 168.86L269.47 169.46L269.99 170.07L270.52 170.67L271.05 171.27L271.58 171.88L272.11 172.48L272.64 173.08L273.17 173.69L273.71 174.29L274.24 174.89L274.77 175.49L275.30 176.08L275.83 176.68L276.36 177.28L276.89 177.88L277.42 178.48L277.95 179.09L278.48 179.69L279.01 180.29L279.54 180.89L280.08 181.49L280.61 182.09L281.14 182.69L281.68 183.29L282.21 183.89L282.75 184.49L283.29 185.09L283.83 185.68L284.37 186.28L284.91 186.88L285.46 187.47L286.01 188.06L286.55 188.66L287.10 189.24L287.65 189.83L288.20 190.42L288.76 191.01L289.31 191.59L289.86 192.17L290.42 192.76L290.98 193.34L291.53 193.92L292.09 194.50L292.65 195.08L293.22 195.65L293.78 196.23L294.34 196.80L294.91 197.38L295.47 197.95L296.04 198.52L296.60 199.09L297.17 199.66L297.74 200.23L298.32 200.80L298.90 201.37L299.48 201.93L300.07 202.50L300.67 203.05L301.26 203.61L301.86 204.16L302.47 204.70L303.07 205.24L303.68 205.78L304.28 206.31L304.89 206.85L305.50 207.38L306.11 207.90L306.73 208.43L307.34 208.95L307.96 209.47L308.58 209.99L309.19 210.51L309.81 211.02L310.43 211.54L311.05 212.05L311.67 212.56L312.29 213.07L312.91 213.58L313.53 214.09L314.15 214.60L314.77 215.11L315.39 215.62L316.01 216.12L316.64 216.63L317.26 217.14L317.88 217.65L318.51 218.15L319.14 218.66L319.77 219.16L320.40 219.67L321.03 220.17L321.67 220.66L322.31 221.16L322.96 221.65L323.60 222.14L324.25 222.63L324.91 223.11L325.57 223.59L326.24 224.07L326.91 224.54L327.59 225.00L328.28 225.45L328.97 225.90L329.66 226.33L330.36 226.76L331.05 227.19L331.74 227.60L332.43 228.02L333.12 228.43L333.80 228.85L334.47 229.26L335.14 229.68L335.81 230.10L336.46 230.53L337.11 230.96L337.75 231.40L338.38 231.84L339.00 232.29L339.60 232.76L340.19 233.24L340.78 233.73L341.37 234.24L341.96 234.76L342.55 235.28L343.15 235.82L343.77 236.35L344.39 236.88L345.04 237.41L345.69 237.93L346.36 238.44L347.04 238.93L347.73 239.40L348.41 239.87L349.09 240.32L349.77 240.77L350.46 241.21L351.14 241.65L351.83 242.08L352.53 242.51L353.23 242.93L353.94 243.34L354.63 243.75L355.31 244.15L355.97 244.56L356.62 244.97L357.26 245.39L357.88 245.83L358.50 246.28L359.11 246.75L359.73 247.23L360.36 247.72L361.00 248.21L361.64 248.70L362.30 249.19L362.95 249.67L363.62 250.15L364.28 250.62L364.94 251.09L365.60 251.55L366.26 252.01L366.92 252.47L367.59 252.93L368.25 253.38L368.91 253.84L369.57 254.29L370.24 254.75L370.90 255.20L371.57 255.65L372.24 256.10L372.91 256.55L373.57 257.00L374.24 257.44L374.91 257.89L375.58 258.33L376.25 258.78L376.92 259.22L377.60 259.67L378.28 260.11L378.95 260.54L379.62 260.97L380.29 261.40L380.94 261.84L381.58 262.28L382.20 262.72L382.79 263.18L383.38 263.65L383.98 264.15L384.59 264.67L385.25 265.19L385.95 265.71L386.69 266.20L387.47 266.64L388.24 267.06L389.00 267.44L389.75 267.80L390.50 268.14L391.23 268.48L391.95 268.81L392.65 269.15L393.34 269.49L394.02 269.85L394.71 270.23L395.41 270.61L396.11 270.99L396.79 271.37L397.47 271.76L398.14 272.15L398.80 272.55L399.44 272.97L400.07 273.39L400.68 273.82L401.26 274.28L401.84 274.74L402.41 275.24L402.98 275.75L403.55 276.28L404.12 276.82L404.69 277.36L405.28 277.91L405.87 278.46L406.48 279.02L407.10 279.57L407.73 280.10L408.37 280.63L409.00 281.15L409.63 281.66L410.26 282.17L410.91 282.68L411.56 283.18L412.24 283.68L412.92 284.16L413.63 284.63L414.35 285.08L415.08 285.52L415.80 285.93L416.53 286.33L417.27 286.71L418.00 287.09L418.74 287.46L419.48 287.82L420.24 288.17L421.01 288.50L421.77 288.82L422.52 289.12L423.25 289.42L423.95 289.73L424.63 290.05L425.29 290.38L425.91 290.75L426.54 291.15L427.16 291.56L427.79 292.00L428.43 292.45L429.07 292.91L429.72 293.38L430.38 293.85L431.05 294.32L431.74 294.77L432.42 295.22L433.10 295.66L433.78 296.10L434.45 296.54L435.14 296.98L435.84 297.42L436.56 297.84L437.29 298.26L438.03 298.66L438.78 299.04L439.53 299.40L440.28 299.76L441.02 300.09L441.75 300.43L442.48 300.76L443.20 301.09L443.93 301.43L444.65 301.76L445.38 302.10L446.90 298.82L446.17 298.48L445.45 298.15L444.72 297.81L443.98 297.47L443.25 297.14L442.53 296.81L441.81 296.48L441.12 296.14L440.43 295.79L439.76 295.44L439.10 295.06L438.44 294.67L437.79 294.26L437.13 293.84L436.48 293.41L435.81 292.98L435.14 292.54L434.48 292.11L433.83 291.67L433.19 291.23L432.55 290.77L431.91 290.31L431.26 289.85L430.59 289.37L429.91 288.91L429.22 288.44L428.50 287.99L427.75 287.56L426.97 287.15L426.19 286.78L425.42 286.44L424.64 286.11L423.89 285.81L423.15 285.50L422.44 285.20L421.74 284.88L421.05 284.55L420.36 284.20L419.67 283.85L418.98 283.48L418.30 283.11L417.63 282.73L416.97 282.34L416.33 281.94L415.70 281.52L415.08 281.09L414.47 280.63L413.87 280.17L413.26 279.68L412.65 279.19L412.04 278.69L411.43 278.19L410.82 277.69L410.23 277.18L409.65 276.67L409.08 276.15L408.51 275.62L407.94 275.07L407.36 274.53L406.77 273.97L406.17 273.42L405.55 272.87L404.91 272.32L404.26 271.78L403.57 271.26L402.88 270.75L402.16 270.29L401.45 269.83L400.74 269.39L400.02 268.97L399.30 268.56L398.58 268.16L397.87 267.77L397.15 267.39L396.44 267.00L395.72 266.62L394.98 266.25L394.23 265.88L393.48 265.53L392.74 265.20L392.02 264.86L391.32 264.53L390.63 264.19L389.97 263.83L389.34 263.46L388.74 263.08L388.17 262.65L387.60 262.19L387.02 261.71L386.40 261.19L385.77 260.67L385.09 260.16L384.40 259.66L383.71 259.19L383.02 258.73L382.33 258.28L381.65 257.84L380.97 257.41L380.30 256.98L379.64 256.54L378.98 256.11L378.31 255.66L377.65 255.22L376.98 254.78L376.32 254.33L375.65 253.89L374.99 253.44L374.33 253.00L373.67 252.55L373.01 252.10L372.35 251.65L371.69 251.20L371.04 250.75L370.38 250.30L369.72 249.84L369.07 249.39L368.41 248.93L367.76 248.47L367.11 248.01L366.47 247.55L365.82 247.09L365.19 246.63L364.56 246.16L363.94 245.68L363.31 245.20L362.68 244.71L362.04 244.21L361.39 243.72L360.72 243.23L360.03 242.75L359.34 242.28L358.62 241.83L357.91 241.40L357.20 240.98L356.50 240.57L355.81 240.16L355.13 239.76L354.47 239.35L353.81 238.94L353.14 238.51L352.48 238.08L351.82 237.65L351.17 237.21L350.52 236.77L349.88 236.33L349.26 235.87L348.65 235.41L348.05 234.94L347.46 234.45L346.88 233.95L346.29 233.44L345.70 232.92L345.10 232.38L344.49 231.85L343.87 231.32L343.24 230.79L342.59 230.26L341.92 229.75L341.24 229.25L340.56 228.77L339.87 228.30L339.18 227.84L338.49 227.40L337.80 226.96L337.11 226.53L336.41 226.10L335.72 225.68L335.03 225.27L334.35 224.85L333.66 224.44L332.99 224.03L332.31 223.61L331.65 223.19L330.99 222.77L330.34 222.33L329.69 221.90L329.05 221.45L328.42 221.00L327.79 220.54L327.15 220.07L326.52 219.60L325.89 219.12L325.26 218.64L324.64 218.16L324.02 217.67L323.39 217.18L322.77 216.68L322.15 216.18L321.53 215.69L320.91 215.18L320.29 214.68L319.68 214.18L319.06 213.67L318.44 213.16L317.82 212.66L317.20 212.15L316.58 211.64L315.96 211.13L315.34 210.62L314.73 210.12L314.11 209.61L313.49 209.10L312.88 208.59L312.27 208.08L311.66 207.57L311.05 207.05L310.44 206.54L309.83 206.02L309.23 205.51L308.63 204.99L308.03 204.47L307.43 203.94L306.84 203.42L306.24 202.89L305.65 202.36L305.07 201.83L304.48 201.30L303.91 200.76L303.33 200.22L302.76 199.68L302.20 199.13L301.63 198.58L301.07 198.02L300.51 197.46L299.95 196.89L299.39 196.33L298.83 195.76L298.26 195.19L297.70 194.62L297.15 194.05L296.59 193.48L296.03 192.91L295.48 192.34L294.92 191.77L294.37 191.19L293.82 190.62L293.27 190.04L292.72 189.46L292.18 188.88L291.63 188.30L291.08 187.72L290.54 187.14L290.00 186.55L289.45 185.97L288.91 185.38L288.38 184.80L287.84 184.21L287.30 183.62L286.77 183.03L286.24 182.43L285.71 181.84L285.17 181.24L284.64 180.65L284.11 180.05L283.58 179.45L283.05 178.85L282.52 178.25L281.99 177.66L281.46 177.05L280.93 176.45L280.40 175.85L279.87 175.25L279.34 174.65L278.81 174.05L278.28 173.45L277.75 172.85L277.21 172.25L276.68 171.65L276.15 171.05L275.62 170.45L275.10 169.85L274.57 169.25L274.04 168.65L273.52 168.05L272.99 167.45L272.46 166.84L271.94 166.24L271.41 165.64L270.88 165.03L270.35 164.43L269.82 163.83L269.29 163.22L268.75 162.62L268.22 162.02L267.68 161.42L267.14 160.82L266.60 160.22L266.06 159.62L265.52 159.02L264.97 158.43L264.42 157.84L263.88 157.25L263.33 156.66L262.79 156.08L262.25 155.49L261.71 154.90L261.16 154.31L260.62 153.72L260.07 153.13L259.52 152.54L258.97 151.95L258.42 151.36L257.86 150.77L257.30 150.19L256.73 149.61L256.16 149.03L255.58 148.45L255.00 147.88L254.41 147.31L253.81 146.74L253.20 146.19L252.59 145.63L251.96 145.09L251.34 144.56L250.72 144.04L250.10 143.52L249.48 143.00L248.85 142.48L248.22 141.97L247.58 141.46L246.94 140.96L246.30 140.45L245.65 139.96L244.99 139.47L244.32 138.98L243.65 138.51L242.97 138.03L242.28 137.58L241.58 137.13L240.87 136.69L240.15 136.26L239.42 135.85L238.68 135.45L237.94 135.07L237.20 134.70L236.45 134.35L235.71 134.00L234.96 133.66L234.20 133.33L233.45 133.01L232.69 132.70L231.93 132.39L231.17 132.09L230.41 131.80L229.64 131.52L228.88 131.24L228.12 130.97L227.35 130.70L226.59 130.43L225.82 130.17L225.06 129.91L224.29 129.66L223.52 129.40L222.76 129.15L221.99 128.90L221.21 128.66L220.44 128.42L219.67 128.18L218.89 127.95L218.11 127.72L217.33 127.50L216.54 127.28L215.76 127.07L214.97 126.86L214.18 126.66L213.39 126.46L212.59 126.28L211.80 126.09L211.00 125.92L210.20 125.76L209.40 125.60L208.60 125.44L207.80 125.30L207.00 125.15L206.20 125.02L205.40 124.88L204.61 124.75L203.81 124.63L203.01 124.50L202.22 124.38L201.42 124.26L200.63 124.14L199.83 124.02L199.04 123.90L198.24 123.79L197.45 123.67L196.65 123.56L195.85 123.44L195.06 123.33L194.26 123.22L193.46 123.12L192.66 123.01L191.86 122.91L191.06 122.80L190.26 122.70L189.46 122.61L188.66 122.51L187.86 122.42L187.06 122.33L186.25 122.25L185.45 122.17L184.65 122.09L183.85 122.01L183.05 121.93L182.25 121.86L181.45 121.78L180.65 121.71L179.84 121.64L179.04 121.57L178.24 121.50L177.44 121.43L176.64 121.36L175.84 121.30L175.04 121.23L174.24 121.17L173.44 121.10L172.64 121.04L171.84 120.98L171.04 120.92L170.24 120.86L169.44 120.80L168.64 120.74L167.83 120.68L167.03 120.63L166.23 120.57L165.43 120.51L164.63 120.46L163.83 120.41L163.03 120.35L162.23 120.30L161.43 120.24L160.63 120.19L159.83 120.14L159.04 120.08L158.24 120.03L157.44 119.97L156.64 119.92L155.83 119.86L155.03 119.81L154.22 119.76L153.42 119.72L152.61 119.68L151.80 119.64L150.98 119.61L150.17 119.58L149.37 119.56L148.56 119.54L147.76 119.51L146.96 119.49L146.16 119.47L145.36 119.45L144.56 119.43L143.75 119.41L142.95 119.40L142.15 119.38L141.35 119.36L140.55 119.34L139.74 119.32L138.94 119.31L138.14 119.29L137.34 119.27L136.54 119.26L135.74 119.24L134.93 119.23L134.13 119.21L133.33 119.20L132.53 119.18L131.73 119.17L130.92 119.15L130.12 119.14L129.32 119.13L128.52 119.12L127.72 119.11L126.91 119.09L126.11 119.08L125.31 119.07L124.51 119.06L123.70 119.05L122.90 119.05L122.10 119.04L121.30 119.03L120.50 119.02L119.69 119.02L118.89 119.01L118.09 119.00L117.29 119.00L116.48 118.99L115.68 118.99L114.88 118.99L114.08 118.98L113.27 118.98L112.47 118.98L111.67 118.98L110.87 118.98L110.07 118.98L109.26 118.97L108.46 118.98L107.66 118.98L106.86 118.98L106.06 118.98L105.26 118.98L104.46 118.98L103.66 118.98L102.85 118.98L102.05 118.98L101.25 118.98L100.45 118.98L99.65 118.97L98.85 118.98L98.05 118.98L97.25 118.98L96.44 118.98L95.64 118.98L94.84 118.98L94.04 118.98L93.24 118.97L92.44 118.97L91.64 118.97L90.84 118.98L90.03 118.98L89.23 118.97L88.43 118.97L87.63 118.98L86.83 118.98L86.03 118.98L85.23 118.98L84.43 118.98L83.62 118.98L82.82 118.98L82.02 118.98L81.22 118.98L80.42 118.98L79.62 118.98L78.82 118.98L78.02 118.98L77.22 118.98L76.41 118.97L75.61 118.98L74.81 118.98L74.01 118.97L73.21 118.97L72.41 118.98L71.61 118.97L70.81 118.97L70.00 118.97L69.20 118.97L68.40 118.98L67.60 118.98L66.80 118.98L66.00 118.98L65.20 118.98L64.40 118.98L63.59 118.98L62.79 118.98L61.99 118.98L61.19 118.98L60.39 118.98L59.59 118.98L58.79 118.98L57.99 118.98L57.18 118.98L56.38 118.98L55.58 118.98L54.78 118.98L53.98 118.98L53.18 118.98L52.38 118.98L51.58 118.98L50.77 118.98Z" fill="#0000ff"/>
<path d="M50.95 133.05L51.77 133.05L52.59 133.05L53.41 133.05L54.23 133.05L55.05 133.05L55.87 133.05L56.69 133.05L57.51 133.05L58.33 133.05L59.15 133.05L59.15 129.95L58.33 129.95L57.51 129.95L56.69 129.95L55.87 129.95L55.05 129.95L54.23 129.95L53.41 129.95L52.59 129.95L51.77 129.95L50.95 129.95ZM61.10 133.05L61.92 133.05L62.74 133.05L63.56 133.05L64.38 133.05L65.20 133.05L66.02 133.05L66.84 133.05L67.66 133.05L68.48 133.05L69.30 133.05L69.30 129.95L68.48 129.95L67.66 129.95L66.84 129.95L66.02 129.95L65.20 129.95L64.38 129.95L63.56 129.95L62.74 129.95L61.92 129.95L61.10 129.95ZM71.25 133.05L72.07 133.05L72.89 133.05L73.71 133.05L74.53 133.05L75.35 133.05L76.17 133.05L76.99 133.05L77.81 133.05L78.63 133.05L79.45 133.05L79.45 129.95L78.63 129.95L77.81 129.95L76.99 129.95L76.17 129.95L75.35 129.95L74.53 129.95L73.71 129.95L72.89 129.95L72.07 129.95L71.25 129.95ZM81.40 133.05L82.22 133.05L83.04 133.05L83.86 133.05L84.68 133.05L85.50 133.05L86.32 133.05L87.14 133.05L87.96 133.05L88.78 133.05L89.60 133.05L89.60 129.95L88.78 129.95L87.96 129.95L87.14 129.95L86.32 129.95L85.50 129.95L84.68 129.95L83.86 129.95L83.04 129.95L82.22 129.95L81.40 129.95ZM91.55 133.05L92.37 133.05L93.19 133.05L94.01 133.05L94.83 133.05L95.65 133.05L96.47 133.05L97.29 133.05L98.11 133.05L98.93 133.05L99.75 133.05L99.75 129.95L98.93 129.95L98.11 129.95L97.29 129.95L96.47 129.95L95.65 129.95L94.83 129.95L94.01 129.95L93.19 129.95L92.37 129.95L91.55 129.95ZM101.70 133.05L102.52 133.05L103.34 133.05L104.16 133.05L104.98 133.05L105.80 133.05L106.62 133.05L107.44 133.05L108.26 133.05L109.08 133.05L109.90 133.05L109.90 129.95L109.08 129.95L108.26 129.95L107.44 129.95L106.62 129.95L105.80 129.95L104.98 129.95L104.16 129.95L103.34 129.95L102.52 129.95L101.70 129.95ZM111.85 133.05L112.66 133.05L113.48 133.06L114.30 133.06L115.12 133.07L115.94 133.07L116.76 133.08L117.58 133.09L118.39 133.09L119.21 133.10L120.03 133.11L120.07 130.01L119.25 130.00L118.43 129.99L117.60 129.99L116.78 129.98L115.96 129.97L115.14 129.97L114.32 129.96L113.50 129.96L112.68 129.95L111.85 129.95ZM121.98 133.14L122.80 133.15L123.61 133.16L124.43 133.18L125.25 133.19L126.07 133.21L126.89 133.22L127.71 133.24L128.53 133.26L129.34 133.27L130.16 133.29L130.23 130.19L129.41 130.17L128.59 130.16L127.77 130.14L126.95 130.12L126.13 130.11L125.31 130.09L124.49 130.08L123.66 130.06L122.84 130.05L122.02 130.04ZM132.11 133.34L132.93 133.36L133.74 133.38L134.56 133.41L135.38 133.43L136.20 133.45L137.02 133.48L137.84 133.50L138.66 133.53L139.47 133.55L140.29 133.58L140.40 130.48L139.58 130.45L138.75 130.43L137.93 130.40L137.11 130.38L136.29 130.35L135.47 130.33L134.65 130.31L133.83 130.28L133.01 130.26L132.19 130.24ZM142.24 133.65L143.06 133.68L143.87 133.71L144.69 133.74L145.51 133.77L146.33 133.80L147.15 133.83L147.96 133.87L148.76 133.91L149.56 133.96L150.36 134.02L150.61 130.92L149.77 130.86L148.94 130.81L148.10 130.77L147.27 130.73L146.45 130.70L145.63 130.67L144.81 130.64L143.99 130.61L143.17 130.58L142.35 130.55ZM152.26 134.19L153.07 134.27L153.88 134.36L154.68 134.46L155.49 134.56L156.30 134.67L157.10 134.77L157.91 134.88L158.72 135.00L159.53 135.11L160.33 135.23L160.80 132.14L159.98 132.02L159.16 131.90L158.34 131.79L157.52 131.68L156.70 131.57L155.88 131.47L155.05 131.36L154.23 131.27L153.40 131.18L152.57 131.09ZM162.18 135.54L162.98 135.69L163.77 135.85L164.56 136.02L165.36 136.19L166.15 136.37L166.94 136.55L167.73 136.74L168.53 136.94L169.32 137.14L170.11 137.34L170.90 134.26L170.09 134.06L169.28 133.86L168.47 133.67L167.66 133.47L166.85 133.29L166.03 133.11L165.21 132.93L164.39 132.77L163.57 132.61L162.74 132.46ZM171.92 137.81L172.72 138.02L173.51 138.24L174.29 138.46L175.08 138.69L175.86 138.92L176.64 139.16L177.42 139.41L178.19 139.66L178.96 139.92L179.74 140.18L180.79 137.13L179.99 136.86L179.19 136.60L178.39 136.35L177.58 136.10L176.78 135.86L175.97 135.62L175.16 135.39L174.35 135.17L173.54 134.95L172.73 134.74ZM181.43 140.79L182.20 141.08L182.96 141.38L183.72 141.68L184.47 141.99L185.21 142.31L185.94 142.65L186.66 143.00L187.38 143.37L188.09 143.75L188.81 144.14L190.42 141.18L189.66 140.78L188.89 140.39L188.12 140.01L187.33 139.64L186.53 139.30L185.73 138.97L184.93 138.65L184.14 138.34L183.34 138.04L182.54 137.75ZM190.28 144.97L191.01 145.39L191.73 145.81L192.45 146.24L193.15 146.67L193.85 147.12L194.54 147.57L195.21 148.03L195.87 148.51L196.52 149.00L197.15 149.50L199.36 146.71L198.64 146.18L197.91 145.66L197.18 145.16L196.44 144.68L195.69 144.21L194.95 143.75L194.20 143.31L193.45 142.87L192.70 142.44L191.95 142.02ZM198.22 150.44L198.84 151.00L199.45 151.59L200.06 152.19L200.67 152.79L201.29 153.41L201.91 154.02L202.53 154.64L203.15 155.26L203.77 155.87L204.37 156.49L207.01 153.89L206.38 153.26L205.76 152.64L205.13 152.02L204.51 151.41L203.89 150.79L203.26 150.17L202.62 149.55L201.97 148.93L201.30 148.32L200.60 147.71ZM205.31 157.45L205.86 158.02L206.40 158.60L206.94 159.17L207.48 159.76L208.01 160.34L208.54 160.93L209.06 161.52L209.58 162.11L210.09 162.71L210.60 163.31L211.11 163.92L214.02 161.48L213.49 160.86L212.96 160.24L212.42 159.63L211.88 159.02L211.33 158.41L210.78 157.81L210.22 157.21L209.67 156.62L209.10 156.03L208.54 155.44L207.97 154.86ZM211.92 164.90L212.43 165.51L212.93 166.14L213.44 166.76L213.94 167.39L214.44 168.02L214.94 168.65L215.44 169.28L215.94 169.91L216.43 170.55L216.93 171.19L217.43 171.82L220.42 169.48L219.92 168.84L219.43 168.21L218.92 167.57L218.42 166.93L217.92 166.29L217.42 165.65L216.91 165.02L216.40 164.38L215.89 163.74L215.37 163.11L214.85 162.48ZM218.20 172.81L218.70 173.45L219.21 174.09L219.71 174.72L220.21 175.36L220.72 176.00L221.23 176.63L221.74 177.26L222.24 177.89L222.75 178.52L223.26 179.16L223.77 179.80L226.72 177.40L226.21 176.77L225.71 176.15L225.21 175.52L224.70 174.88L224.20 174.25L223.69 173.63L223.19 173.00L222.69 172.36L222.19 171.73L221.69 171.10L221.19 170.46ZM224.58 180.78L225.11 181.41L225.65 182.03L226.18 182.65L226.72 183.26L227.26 183.88L227.80 184.49L228.34 185.09L228.88 185.70L229.43 186.30L229.97 186.91L230.52 187.51L233.29 184.98L232.76 184.38L232.22 183.79L231.68 183.19L231.15 182.59L230.62 181.99L230.09 181.39L229.57 180.78L229.04 180.18L228.53 179.57L228.01 178.96L227.50 178.35ZM231.39 188.46L231.94 189.05L232.49 189.64L233.04 190.24L233.59 190.83L234.13 191.42L234.68 192.01L235.23 192.59L235.78 193.18L236.33 193.77L236.88 194.36L237.43 194.95L240.16 192.40L239.61 191.81L239.06 191.22L238.51 190.63L237.97 190.05L237.42 189.46L236.87 188.87L236.33 188.28L235.78 187.69L235.24 187.10L234.70 186.51L234.16 185.92ZM238.32 195.91L238.87 196.49L239.42 197.08L239.97 197.67L240.52 198.25L241.08 198.84L241.63 199.42L242.19 200.01L242.75 200.59L243.31 201.17L243.87 201.76L244.43 202.34L247.10 199.75L246.54 199.18L245.99 198.60L245.44 198.02L244.89 197.44L244.34 196.86L243.79 196.28L243.24 195.69L242.69 195.11L242.15 194.53L241.60 193.94L241.05 193.35ZM245.37 203.29L245.99 203.93L246.62 204.56L247.24 205.18L247.88 205.81L248.51 206.43L249.15 207.05L249.79 207.66L250.43 208.27L251.07 208.88L251.72 209.49L254.23 206.83L253.60 206.23L252.97 205.62L252.34 205.02L251.71 204.41L251.09 203.80L250.47 203.18L249.85 202.57L249.24 201.95L248.63 201.33L248.02 200.70ZM252.73 210.44L253.37 211.04L254.02 211.63L254.67 212.23L255.32 212.82L255.98 213.41L256.63 214.00L257.29 214.59L257.95 215.17L258.61 215.75L259.27 216.33L261.66 213.61L261.00 213.04L260.35 212.46L259.71 211.88L259.06 211.30L258.42 210.71L257.77 210.13L257.13 209.54L256.50 208.95L255.86 208.36L255.23 207.77ZM260.35 217.27L261.02 217.84L261.68 218.42L262.35 218.98L263.03 219.55L263.71 220.11L264.38 220.66L265.06 221.22L265.75 221.77L266.43 222.32L267.11 222.87L269.34 220.08L268.67 219.54L268.00 218.99L267.33 218.45L266.66 217.90L266.00 217.35L265.34 216.79L264.68 216.24L264.02 215.68L263.37 215.11L262.72 214.54ZM268.26 223.78L268.94 224.32L269.62 224.86L270.30 225.40L270.98 225.94L271.65 226.48L272.33 227.02L273.00 227.56L273.67 228.10L274.34 228.64L275.00 229.19L277.27 226.42L276.59 225.87L275.91 225.32L275.24 224.77L274.56 224.23L273.88 223.69L273.20 223.15L272.52 222.61L271.84 222.07L271.16 221.53L270.48 221.00ZM276.14 230.12L276.81 230.67L277.47 231.23L278.14 231.78L278.81 232.33L279.48 232.89L280.15 233.44L280.82 234.00L281.49 234.55L282.17 235.10L282.84 235.66L285.10 232.88L284.43 232.34L283.77 231.79L283.10 231.23L282.43 230.68L281.77 230.13L281.10 229.57L280.43 229.02L279.76 228.46L279.09 227.91L278.42 227.36ZM284.00 236.59L284.68 237.14L285.37 237.68L286.06 238.22L286.75 238.75L287.44 239.28L288.13 239.81L288.83 240.34L289.52 240.86L290.22 241.39L290.92 241.91L293.03 239.08L292.34 238.56L291.65 238.04L290.97 237.52L290.28 237.00L289.60 236.47L288.92 235.95L288.25 235.42L287.58 234.89L286.91 234.35L286.24 233.81ZM292.14 242.81L292.84 243.32L293.54 243.83L294.24 244.34L294.94 244.85L295.65 245.35L296.35 245.86L297.06 246.36L297.76 246.86L298.47 247.36L299.17 247.86L301.19 245.00L300.49 244.50L299.79 244.01L299.09 243.51L298.39 243.01L297.69 242.51L297.00 242.01L296.31 241.50L295.61 240.99L294.92 240.49L294.23 239.98ZM300.43 248.75L301.12 249.24L301.82 249.74L302.53 250.24L303.23 250.74L303.94 251.24L304.65 251.73L305.36 252.23L306.08 252.72L306.80 253.21L307.53 253.69L309.45 250.80L308.74 250.33L308.04 249.85L307.35 249.36L306.65 248.87L305.95 248.38L305.25 247.89L304.55 247.39L303.86 246.89L303.15 246.39L302.45 245.89ZM308.90 254.56L309.63 255.02L310.38 255.47L311.14 255.92L311.90 256.35L312.67 256.77L313.45 257.18L314.23 257.57L315.01 257.96L315.79 258.34L316.57 258.71L318.00 255.71L317.24 255.34L316.49 254.97L315.75 254.59L315.02 254.21L314.29 253.81L313.57 253.40L312.86 252.98L312.15 252.55L311.45 252.11L310.75 251.66ZM318.11 259.42L318.87 259.78L319.63 260.13L320.38 260.49L321.13 260.85L321.88 261.22L322.61 261.59L323.34 261.96L324.06 262.35L324.78 262.75L325.50 263.16L327.16 260.21L326.41 259.79L325.65 259.39L324.89 258.99L324.12 258.60L323.35 258.23L322.57 257.85L321.80 257.49L321.04 257.13L320.27 256.78L319.51 256.42ZM326.94 263.99L327.67 264.42L328.39 264.85L329.11 265.29L329.83 265.73L330.55 266.17L331.27 266.61L331.98 267.06L332.70 267.51L333.40 267.97L334.11 268.42L335.99 265.53L335.26 265.06L334.53 264.60L333.80 264.15L333.07 263.70L332.34 263.25L331.61 262.80L330.88 262.36L330.14 261.92L329.40 261.48L328.65 261.05ZM335.42 269.30L336.12 269.78L336.82 270.26L337.53 270.75L338.24 271.23L338.96 271.72L339.68 272.20L340.41 272.68L341.16 273.15L341.91 273.61L342.68 274.06L344.41 271.12L343.70 270.69L343.00 270.24L342.30 269.78L341.60 269.31L340.90 268.84L340.20 268.36L339.49 267.88L338.78 267.39L338.07 266.91L337.35 266.42ZM344.11 274.86L344.85 275.28L345.58 275.69L346.28 276.12L346.97 276.55L347.63 276.99L348.26 277.45L348.86 277.95L349.45 278.46L350.03 279.01L350.63 279.58L353.12 276.91L352.47 276.32L351.81 275.73L351.08 275.16L350.34 274.61L349.56 274.11L348.80 273.64L348.03 273.19L347.27 272.75L346.52 272.33L345.78 271.91ZM351.79 280.66L352.47 281.26L353.19 281.84L353.94 282.41L354.72 282.93L355.49 283.42L356.25 283.90L357.02 284.36L357.79 284.80L358.56 285.24L359.34 285.67L360.98 282.71L360.24 282.29L359.51 281.86L358.78 281.43L358.07 280.98L357.38 280.53L356.70 280.06L356.06 279.59L355.45 279.07L354.84 278.54L354.24 277.97ZM360.76 286.44L361.52 286.84L362.30 287.24L363.09 287.61L363.87 287.97L364.64 288.33L365.39 288.68L366.12 289.04L366.83 289.42L367.52 289.81L368.19 290.22L369.98 287.29L369.19 286.86L368.40 286.44L367.60 286.05L366.82 285.68L366.04 285.32L365.28 284.97L364.53 284.61L363.80 284.25L363.08 283.87L362.36 283.48ZM369.45 291.07L370.11 291.56L370.77 292.06L371.42 292.58L372.06 293.11L372.69 293.64L373.31 294.19L373.89 294.75L374.47 295.32L375.04 295.93L375.63 296.55L378.31 293.97L377.70 293.34L377.07 292.70L376.40 292.08L375.72 291.47L375.02 290.90L374.32 290.33L373.62 289.78L372.90 289.24L372.17 288.71L371.42 288.20ZM376.69 297.62L377.36 298.25L378.04 298.86L378.74 299.45L379.43 300.02L380.12 300.59L380.82 301.15L381.52 301.70L382.23 302.24L382.95 302.78L383.67 303.29L385.75 300.46L385.06 299.95L384.38 299.43L383.71 298.90L383.05 298.36L382.39 297.82L381.74 297.27L381.09 296.72L380.48 296.16L379.87 295.59L379.29 295.00ZM384.86 304.15L385.52 304.65L386.18 305.15L386.83 305.66L387.48 306.17L388.14 306.70L388.80 307.22L389.46 307.75L390.12 308.27L390.78 308.79L392.99 306.01L392.33 305.48L391.67 304.96L391.01 304.43L390.35 303.91L389.68 303.38L389.01 302.86L388.32 302.33L387.63 301.82L386.93 301.32Z" fill="#ff0000"/>
</g>
<g font-family="Liberation Serif, serif" font-size="11.5px" fill="#111"><text transform="translate(52.60 318.9) scale(0.93 1)" text-anchor="middle">0</text><text transform="translate(131.00 318.9) scale(0.93 1)" text-anchor="middle">500</text><text transform="translate(209.40 318.9) scale(0.93 1)" text-anchor="middle">1000</text><text transform="translate(287.80 318.9) scale(0.93 1)" text-anchor="middle">1500</text><text transform="translate(366.20 318.9) scale(0.93 1)" text-anchor="middle">2000</text><text transform="translate(444.60 318.9) scale(0.93 1)" text-anchor="middle">2500</text><text transform="translate(47.4 309.50) scale(0.93 1)" text-anchor="end">0.01</text><text transform="translate(47.4 254.50) scale(0.93 1)" text-anchor="end">0.1</text><text transform="translate(47.4 199.50) scale(0.93 1)" text-anchor="end">1</text><text transform="translate(47.4 144.50) scale(0.93 1)" text-anchor="end">10</text><text transform="translate(47.4 89.50) scale(0.93 1)" text-anchor="end">100</text><text transform="translate(47.4 34.50) scale(0.93 1)" text-anchor="end">1000</text></g>
<g font-family="Liberation Serif, serif" font-size="15.5px" fill="#111"><text x="327.6" y="66.4">c</text><path d="M339.1 61.0h8.9v1h-8.9zM339.1 63.8h8.9v1h-8.9z"/><text x="349.6" y="66.4">2</text></g>
<g fill="#ff0000" font-family="Liberation Serif, serif" font-weight="bold" font-size="15px" stroke="#ff0000" stroke-width="0.2"><path d="M201.1 13.5 L203.5 11.6 M208.9 23.2 L213.8 4.7 L232.1 4.7" fill="none" stroke="#ff0000" stroke-width="1.4" stroke-linejoin="miter"/><path d="M203.4 11.4 L209.0 22.6" fill="none" stroke="#ff0000" stroke-width="2.5"/><path d="M236.7 13.5h8.4v1.7h-8.4zM236.7 16.5h8.4v1.7h-8.4z" stroke="none"/><text x="218.4" y="19.7" font-style="italic">s</text><text x="246.7" y="19.7">1</text><text x="254.0" y="19.7">4</text><text x="268.8" y="19.7">T</text><text x="278.5" y="19.7">e</text><text x="285.9" y="19.7">V</text></g>
<g font-family="Liberation Serif, serif" font-weight="bold" font-style="italic" font-size="15px" fill="#111" stroke="#111" stroke-width="0.2"><text x="207.3" y="341.0">MET</text><text x="243.6" y="341.0" font-style="normal">(</text><text x="252.3" y="341.0">m</text><text x="265.3" y="341.0">i</text><text x="271.0" y="341.0">n</text><text x="283.3" y="341.0" font-style="normal">)</text></g>
<g transform="translate(13.2 309.5) rotate(-90)" font-family="Liberation Serif, serif" font-weight="bold" font-size="14px" fill="#111" stroke="#111" stroke-width="0.3"><text x="0" y="0" textLength="50.8" lengthAdjust="spacing">Number</text><text x="58.1" y="0">of</text><text x="76.5" y="0">e</text><text x="84.3" y="0">v</text><text x="91.8" y="0">e</text><text x="98.7" y="0" textLength="18.6" lengthAdjust="spacing">nts</text><text x="126.5" y="0">with</text><text x="159.6" y="0" font-style="italic">MET</text><text x="196.2" y="0">&gt;</text><text x="208.9" y="0" font-style="italic">MET</text><text x="243.0" y="0">(</text><text x="250.6" y="0" font-style="italic">m</text><text x="262.3" y="0" font-style="italic">i</text><text x="268.2" y="0" font-style="italic">n</text><text x="279.7" y="0">)</text></g>
</svg>
</body></html>
